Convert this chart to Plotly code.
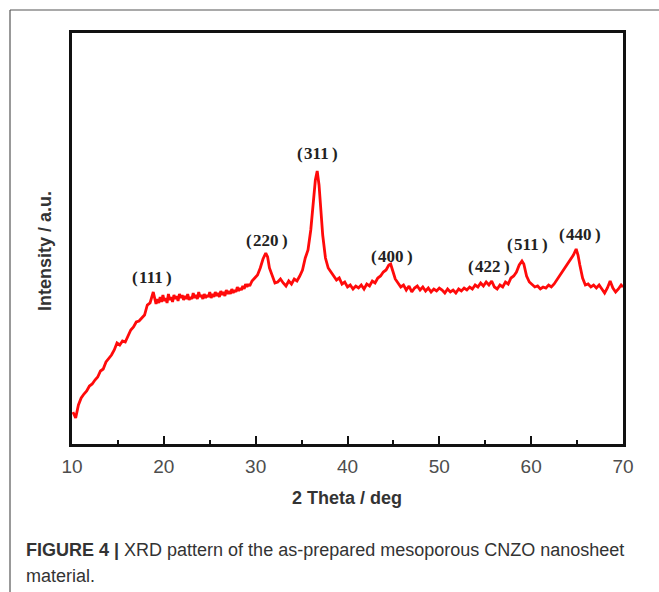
import plotly.graph_objects as go

two_theta = [
    10.1, 10.4, 10.7, 11.0, 11.3, 11.6, 11.9, 12.2, 12.5, 12.8, 13.1, 13.4, 13.7, 14.0, 14.3,
    14.6, 14.9, 15.2, 15.5, 15.8, 16.1, 16.4, 16.7, 17.0, 17.3, 17.6, 17.9, 18.2, 18.5, 18.85,
    19.0, 19.15, 19.3, 19.45, 19.6, 19.75, 19.9, 20.05, 20.2, 20.35, 20.5, 20.65, 20.8, 20.95,
    21.1, 21.25, 21.4, 21.55, 21.7, 21.85, 22.0, 22.15, 22.3, 22.45, 22.6, 22.75, 22.9, 23.05,
    23.2, 23.35, 23.5, 23.65, 23.8, 23.95, 24.1, 24.25, 24.4, 24.55, 24.7, 24.85, 25.0, 25.15,
    25.3, 25.45, 25.6, 25.75, 25.9, 26.05, 26.2, 26.35, 26.5, 26.65, 26.8, 26.95, 27.1, 27.25,
    27.4, 27.55, 27.7, 27.85, 28.0, 28.15, 28.3, 28.45, 28.6, 28.75, 28.9, 29.05, 29.2, 29.35,
    29.6, 29.9, 30.2, 30.5, 30.8, 31.1, 31.3, 31.5, 31.8, 32.1,
    32.4, 32.7, 33.0, 33.3, 33.6, 33.9, 34.2, 34.5, 34.8, 35.1, 35.4, 35.7, 36.0, 36.3, 36.5,
    36.7, 36.9, 37.1, 37.3, 37.6, 37.9, 38.2, 38.5, 38.8, 39.1, 39.4, 39.7, 40.0, 40.3, 40.6,
    40.9, 41.2, 41.5, 41.8, 42.1, 42.4, 42.7, 43.0, 43.3, 43.6, 43.9, 44.2, 44.5, 44.7, 44.9,
    45.2, 45.5, 45.8, 46.1, 46.4, 46.7, 47.0, 47.3, 47.6, 47.9, 48.2, 48.5, 48.8, 49.1, 49.4,
    49.7, 50.0, 50.3, 50.6, 50.9, 51.2, 51.5, 51.8, 52.1, 52.4, 52.7, 53.0, 53.3, 53.6, 53.9,
    54.2, 54.5, 54.8, 55.1, 55.4, 55.7, 56.0, 56.3, 56.6, 56.9, 57.2, 57.5, 57.8, 58.1, 58.4,
    58.7, 59.0, 59.2, 59.5, 59.8, 60.1, 60.4, 60.7, 61.0, 61.3, 61.6, 61.9, 62.2, 62.5, 62.8,
    63.1, 63.4, 63.7, 64.0, 64.3, 64.6, 64.9, 65.1, 65.3, 65.6, 65.9, 66.2, 66.5, 66.8, 67.1,
    67.4, 67.7, 68.0, 68.3, 68.6, 68.9, 69.2, 69.5, 69.8, 70.0,
]
intensity = [
    32, 26, 39, 46, 50, 53, 58, 60, 64, 67, 73, 75, 82, 85, 89,
    94, 101, 99, 103, 102, 109, 114, 117, 122, 123, 126, 129, 139, 141, 152,
    146, 140, 145, 141, 147, 142, 149, 143, 146, 141, 150, 144, 147, 142,
    149, 145, 148, 143, 150, 146, 149, 144, 148, 145, 150, 144, 147, 145,
    151, 146, 149, 145, 152, 147, 149, 145, 150, 146, 149, 147, 152, 146,
    150, 147, 152, 148, 151, 147, 153, 149, 152, 148, 154, 150, 153, 150,
    155, 151, 154, 152, 157, 153, 156, 154, 158, 155, 160, 157, 160, 158,
    163, 166, 169, 176, 185, 191, 187, 176, 168, 161,
    162, 165, 161, 158, 163, 160, 165, 163, 168, 174, 186, 194, 214, 244, 264,
    273, 259, 234, 209, 186, 176, 172, 168, 164, 166, 160, 162, 157, 159, 155,
    158, 156, 159, 155, 160, 158, 163, 161, 166, 168, 172, 174, 179, 180, 174,
    165, 161, 157, 159, 154, 158, 152, 156, 158, 154, 157, 153, 156, 152, 155,
    153, 156, 154, 151, 155, 152, 154, 151, 155, 153, 156, 154, 157, 155, 159,
    157, 161, 158, 162, 159, 163, 157, 155, 159, 157, 162, 160, 166, 168, 172,
    179, 183, 180, 168, 162, 159, 157, 158, 155, 157, 156, 159, 157, 160, 164,
    168, 172, 176, 181, 184, 189, 195, 189, 179, 166, 159, 160, 157, 159, 156,
    159, 155, 151, 156, 163, 156, 152, 155, 159, 157,
]

# Miller-index labels of the spinel reflections
peak_labels = ["(111)", "(220)", "(311)", "(400)", "(422)", "(511)", "(440)"]
peak_x = [18.7, 31.2, 36.7, 44.8, 55.4, 59.6, 65.3]
peak_y = [167, 204, 291, 188, 178, 200, 210]

x_ticks = [10, 20, 30, 40, 50, 60, 70]
x_title = "2 Theta / deg"
y_title = "Intensity / a.u."
caption_bold = "FIGURE 4 |"
caption_rest = " XRD pattern of the as-prepared mesoporous CNZO nanosheet"
caption_line2 = "material."

W, H = 659, 592
L, R, T, B = 72, 623, 33, 444


def px(xp):
    return (xp - L) / (R - L)


def py(yp):
    return (B - yp) / (B - T)


fig = go.Figure()
fig.add_trace(go.Scatter(
    x=two_theta, y=intensity, mode="lines",
    line=dict(color="#ff0a0a", width=2.8),
    showlegend=False, hoverinfo="skip",
))

annotations = []
for lab, xv, yv in zip(peak_labels, peak_x, peak_y):
    annotations.append(dict(
        x=xv, y=yv, xref="x", yref="y",
        text="<b>" + lab.replace("(", "(\u200a").replace(")", "\u2009)") + "</b>",
        showarrow=False,
        font=dict(family="Liberation Serif, Times New Roman, serif", size=17, color="#222222"),
        xanchor="center", yanchor="middle",
    ))

annotations.append(dict(
    x=px(347), y=py(498), xref="paper", yref="paper", text="<b>" + x_title + "</b>",
    showarrow=False, xanchor="center", yanchor="middle",
    font=dict(family="Liberation Sans, Arial, sans-serif", size=18, color="#333333"),
))
annotations.append(dict(
    x=px(45), y=py(251), xref="paper", yref="paper", text="<b>" + y_title + "</b>",
    showarrow=False, xanchor="center", yanchor="middle", textangle=-90,
    font=dict(family="Liberation Sans, Arial, sans-serif", size=18, color="#333333"),
))
annotations.append(dict(
    x=px(24), y=py(550), xref="paper", yref="paper",
    text="<b>" + caption_bold + "</b>" + caption_rest,
    showarrow=False, xanchor="left", yanchor="middle", align="left",
    font=dict(family="Liberation Sans, Arial, sans-serif", size=18, color="#333333"),
))
annotations.append(dict(
    x=px(24), y=py(576), xref="paper", yref="paper", text=caption_line2,
    showarrow=False, xanchor="left", yanchor="middle", align="left",
    font=dict(family="Liberation Sans, Arial, sans-serif", size=18, color="#333333"),
))

shapes = [
    dict(type="line", xref="paper", yref="paper", x0=px(10), x1=px(670), y0=py(10), y1=py(10),
         line=dict(color="#555555", width=1.2)),
    dict(type="line", xref="paper", yref="paper", x0=px(10), x1=px(10), y0=py(10), y1=py(610),
         line=dict(color="#555555", width=1.2)),
]

fig.update_layout(
    width=W, height=H,
    margin=dict(l=L, r=W - R, t=T, b=H - B, pad=0),
    paper_bgcolor="white", plot_bgcolor="white",
    annotations=annotations, shapes=shapes,
    showlegend=False,
)
fig.update_xaxes(
    range=[10, 70], tickvals=x_ticks, ticktext=[str(v) for v in x_ticks],
    showgrid=False, zeroline=False,
    showline=True, linecolor="#111111", linewidth=2.5, mirror=True,
    ticks="inside", ticklen=8, tickwidth=2, tickcolor="#111111",
    minor=dict(ticks="inside", ticklen=4, tickwidth=2, tickcolor="#111111", dtick=5, showgrid=False),
    tickfont=dict(family="Liberation Sans, Arial, sans-serif", size=19, color="#4d4d4d"),
    ticklabelstandoff=3,
)
fig.update_yaxes(
    range=[0, 411], showticklabels=False, ticks="",
    showgrid=False, zeroline=False,
    showline=True, linecolor="#111111", linewidth=2.5, mirror=True,
)

fig.write_html("out.html")
